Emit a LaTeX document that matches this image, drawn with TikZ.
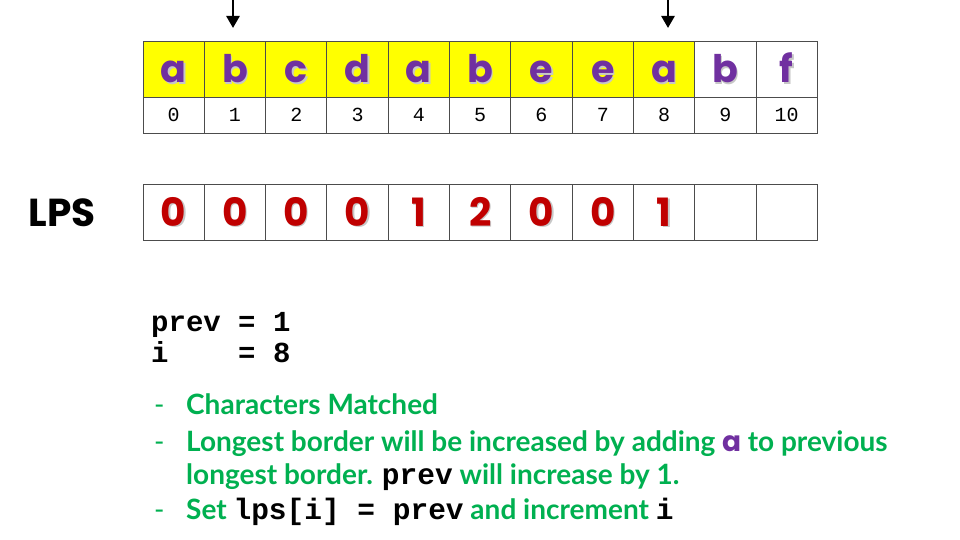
\documentclass[tikz,border=0pt]{standalone}
\usepackage{fontspec}
\setmainfont{Lato}
\setmonofont{Liberation Mono}
\newfontfamily\comicfont{Poppins}
\usetikzlibrary{arrows.meta,calc}
\definecolor{lpurple}{HTML}{7030A0}
\definecolor{lred}{HTML}{C00000}
\definecolor{lgreen}{HTML}{00B050}
\definecolor{lyellow}{HTML}{FFFF00}
\newcommand{\mycode}[1]{{\ttfamily\bfseries\color{black}\fontsize{29.5}{30}\selectfont #1}}
\tikzset{
  cellbox/.style={draw=black!70,line width=0.9pt,minimum width=61.3pt,inner sep=0pt,outer sep=0pt},
  topcell/.style={cellbox,minimum height=56pt},
  idxcell/.style={cellbox,minimum height=36pt},
  lpscell/.style={cellbox,minimum height=56pt},
  letter/.style={anchor=base,inner sep=0pt,text=lpurple,font=\comicfont\bfseries\fontsize{38}{40}\selectfont},
  lshadow/.style={letter,text=black!22},
  digit/.style={anchor=base,inner sep=0pt,text=lred,font=\comicfont\bfseries\fontsize{39}{40}\selectfont},
  dshadow/.style={digit,text=black!22},
  idx/.style={anchor=base,inner sep=0pt,font=\ttfamily\fontsize{20}{22}\selectfont},
  code/.style={anchor=base west,inner sep=0pt,font=\ttfamily\bfseries\fontsize{29}{32}\selectfont},
  gtext/.style={anchor=base west,inner sep=0pt,text=lgreen,font=\bfseries\fontsize{28}{30}\selectfont},
  ptr/.style={line width=2.6pt,-{Triangle[length=12pt,width=13pt]}},
}
\begin{document}
\begin{tikzpicture}[x=1pt,y=-1pt]
\useasboundingbox (0,0) rectangle (960,540);
% top row
\foreach \i/\c in {0/a,1/b,2/c,3/d,4/a,5/b,6/e,7/e,8/a,9/b,10/f}{
  \pgfmathsetmacro{\xc}{143+61.3*(\i+0.5)}
  \ifnum\i<9
    \node[topcell,fill=lyellow] (t\i) at (\xc,69) {};
  \else
    \node[topcell,fill=white] (t\i) at (\xc,69) {};
  \fi
  \node[lshadow] (ls\i) at (\xc+1.4,84.4) {\c};
  \node[letter] (l\i) at (\xc,83) {\c};
  \node[idxcell] (n\i) at (\xc,115) {};
  \node[idx] (d\i) at (\xc,121.5) {\i};
}
% LPS row
\node[anchor=base,inner sep=0pt,font=\comicfont\bfseries\fontsize{39}{42}\selectfont] (lpslabel) at (62,226) {LPS};
\foreach \i/\v in {0/0,1/0,2/0,3/0,4/1,5/2,6/0,7/0,8/1,9/,10/}{
  \pgfmathsetmacro{\xc}{143+61.3*(\i+0.5)}
  \node[lpscell] (p\i) at (\xc,212) {};
  \node[dshadow] (ps\i) at (\xc+1.4,227.4) {\v};
  \node[digit] (pv\i) at (\xc,226) {\v};
}
% pointers
\coordinate (s1) at (233,0);
\coordinate (e1) at (233,28);
\coordinate (s8) at (668,0);
\coordinate (e8) at (668,28);
\draw[ptr] (s1) -- (e1);
\draw[ptr] (s8) -- (e8);
% code
\node[code] (c1) at (151,331) {prev = 1};
\node[code] (c2) at (151,362) {i\ \ \ \ = 8};
% bullets
\foreach \y/\n in {414/b1,451/b2,519/b4}{
  \node[gtext,font=\fontsize{28}{30}\selectfont] (\n) at (154,\y) {-};
}
\node[gtext] (g1) at (186,414) {Characters Matched};
\node[gtext] (g2) at (186,451) {Longest border will be increased by adding
  {\comicfont\color{lpurple}a} to previous};
\node[gtext] (g3) at (186,484) {longest border. \mycode{prev} will increase by 1.};
\node[gtext] (g4) at (186,519) {Set \mycode{lps[i] = prev} and increment \mycode{i}};
\end{tikzpicture}
\end{document}
